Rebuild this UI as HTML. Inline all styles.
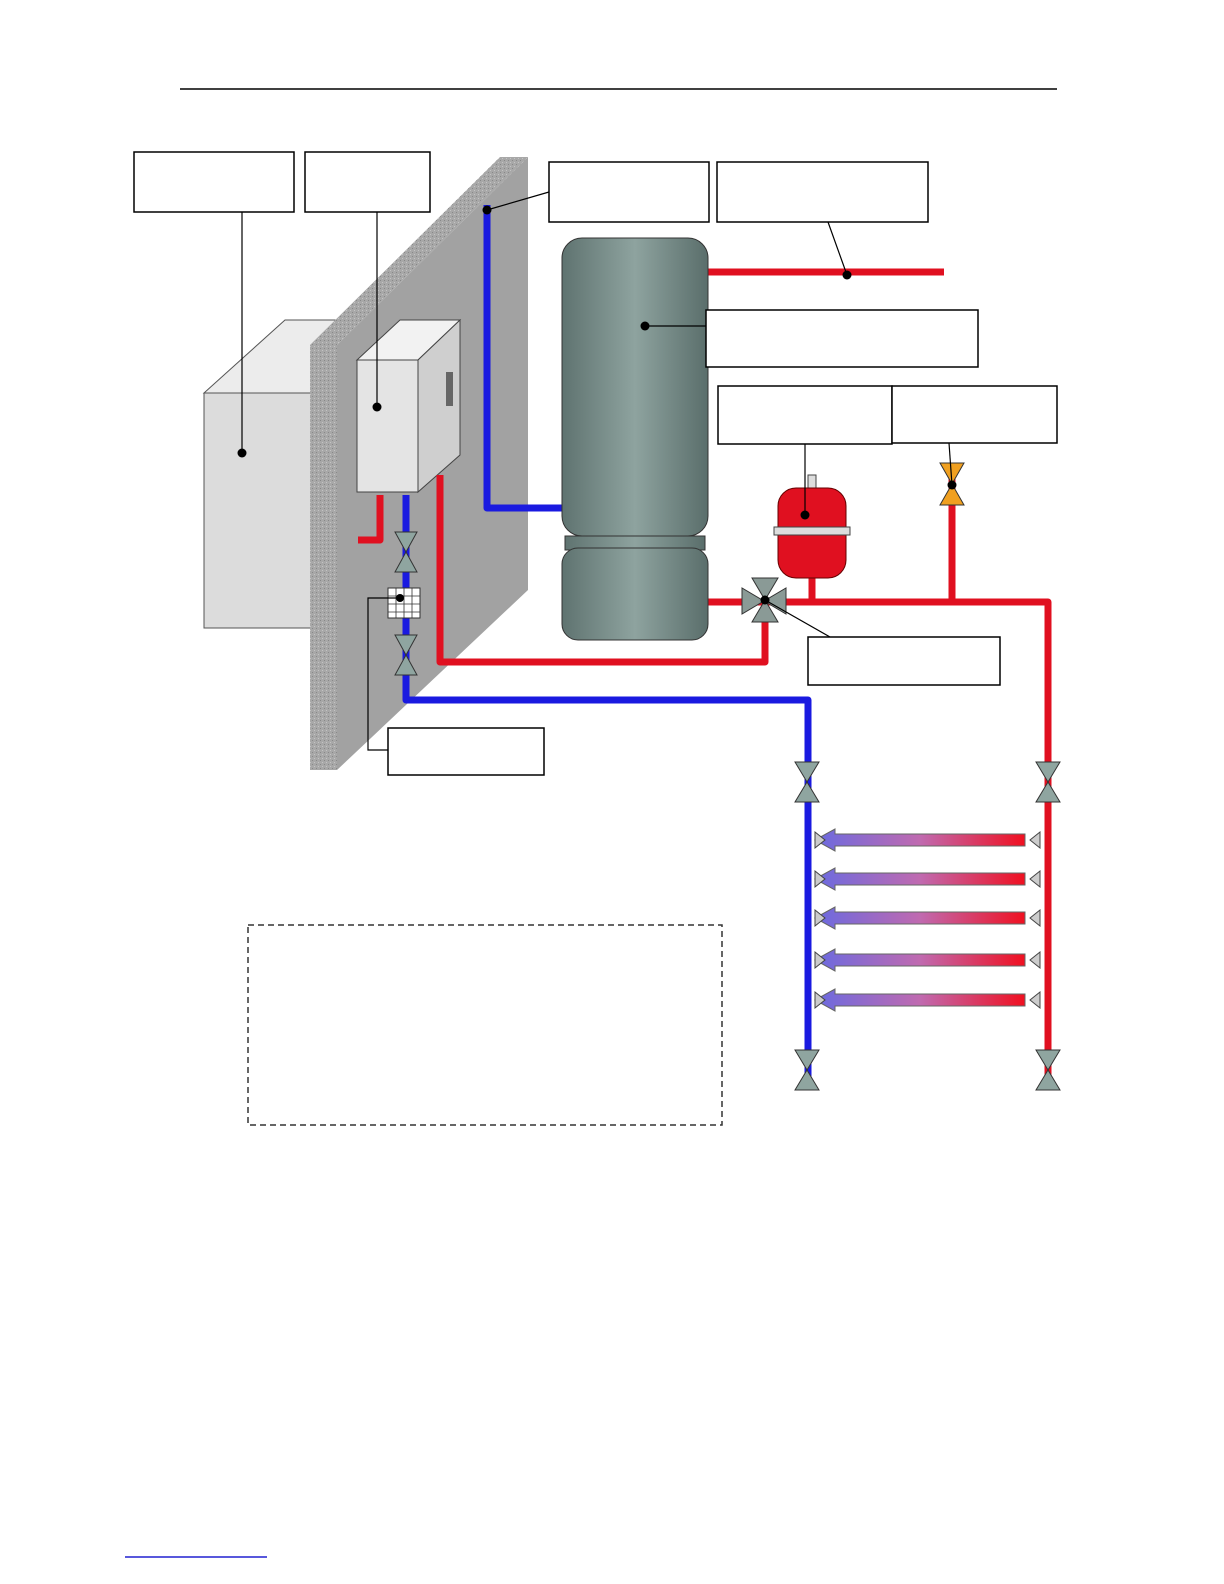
<!DOCTYPE html>
<html><head><meta charset="utf-8"><style>body{margin:0;background:#fff}svg{display:block}</style></head><body>
<svg width="1224" height="1584" viewBox="0 0 1224 1584" xmlns="http://www.w3.org/2000/svg">
<defs>
<linearGradient id="arr" x1="0" x2="1"><stop offset="0" stop-color="#6a6ae0"/><stop offset="0.5" stop-color="#c06ab0"/><stop offset="1" stop-color="#f01020"/></linearGradient>
<linearGradient id="tank" x1="0" x2="1"><stop offset="0" stop-color="#5f7370"/><stop offset="0.5" stop-color="#8ea39f"/><stop offset="1" stop-color="#5a6e6b"/></linearGradient>
<pattern id="tex" width="4" height="4" patternUnits="userSpaceOnUse"><rect width="4" height="4" fill="#a8a8a8"/><rect width="1" height="1" fill="#888"/><rect x="2" y="2" width="1" height="1" fill="#c4c4c4"/></pattern>
</defs>
<line x1="180" y1="89" x2="1057" y2="89" stroke="#000" stroke-width="1.5"/>
<!-- outdoor unit -->
<polygon points="204,393 285,320 335,320 335,393" fill="#ececec" stroke="#555"/>
<rect x="204" y="393" width="110" height="235" fill="#dcdcdc" stroke="#555"/>
<!-- wall -->
<polygon points="337,345 528,157 528,590 337,770" fill="#a2a2a2"/>
<polygon points="310,345 500,157 528,157 337,345" fill="url(#tex)"/>
<rect x="310" y="345" width="27" height="425" fill="url(#tex)"/>
<!-- indoor unit -->
<polygon points="357,360 400,320 460,320 418,360" fill="#f2f2f2" stroke="#444"/>
<polygon points="418,360 460,320 460,455 418,492" fill="#cfcfcf" stroke="#444"/>
<rect x="357" y="360" width="61" height="132" fill="#e4e4e4" stroke="#444"/>
<rect x="446" y="372" width="7" height="34" fill="#666"/>
<!-- pipes -->
<g fill="none" stroke-width="7" stroke-linejoin="round">
<path d="M487 205 V508 H562" stroke="#1a1ae0"/>
<path d="M708 272 H944" stroke="#e01020"/>
<path d="M440 475 V662 H765 V610" stroke="#e01020"/>
<path d="M708 602 H1048 V1090" stroke="#e01020"/>
<path d="M952 600 V470" stroke="#e01020"/>
<path d="M812 600 V570" stroke="#e01020"/>
<path d="M380 495 V540 H358" stroke="#e01020"/>
<path d="M406 495 V700 H808 V1090" stroke="#1a1ae0"/>
</g>
<!-- tank -->
<rect x="562" y="238" width="146" height="298" rx="20" fill="url(#tank)" stroke="#333"/>
<rect x="565" y="536" width="140" height="14" fill="url(#tank)" stroke="#333"/>
<rect x="562" y="548" width="146" height="92" rx="16" fill="url(#tank)" stroke="#333"/>
<!-- expansion vessel -->
<rect x="808" y="475" width="8" height="14" fill="#ddd" stroke="#444"/>
<rect x="778" y="488" width="68" height="90" rx="18" fill="#e01020" stroke="#600"/>
<rect x="774" y="527" width="76" height="8" fill="#ddd" stroke="#444"/>
<!-- orange valve -->
<polygon points="940,463 964,463 940,505 964,505" fill="#f0a020" stroke="#333"/>
<!-- 3 way valve -->
<polygon points="742,588 742,614 786,588 786,614" fill="#8a9a96" stroke="#333"/>
<polygon points="752,578 778,578 752,622 778,622" fill="#8a9a96" stroke="#333"/>
<!-- valves -->
<g fill="#8fa5a0" stroke="#333">
<polygon points="395,532 417,532 395,572 417,572"/>
<polygon points="395,635 417,635 395,675 417,675"/>
<polygon points="795,762 819,762 795,802 819,802"/>
<polygon points="1036,762 1060,762 1036,802 1060,802"/>
<polygon points="795,1050 819,1050 795,1090 819,1090"/>
<polygon points="1036,1050 1060,1050 1036,1090 1060,1090"/>
</g>
<!-- filter -->
<rect x="388" y="588" width="32" height="30" fill="#fff" stroke="#333"/>
<path d="M396 588V618M404 588V618M412 588V618M388 596H420M388 604H420M388 612H420" stroke="#333" stroke-width="0.8"/>
<!-- manifold -->
<g>
<g id="row"><polygon points="815,840 835,829 835,834 1025,834 1025,846 835,846 835,851" fill="url(#arr)" stroke="#666"/><polygon points="815,832 825,840 815,848" fill="#ccc" stroke="#444"/><polygon points="1040,832 1030,840 1040,848" fill="#ccc" stroke="#444"/></g>
<use href="#row" y="39"/><use href="#row" y="78"/><use href="#row" y="120"/><use href="#row" y="160"/>
</g>
<!-- leaders -->
<g stroke="#000" stroke-width="1.2" fill="none">
<path d="M242 212 V453"/><path d="M377 212 L377 407"/><path d="M549 192 L487 210"/>
<path d="M828 222 L847 275"/><path d="M706 326 L645 326"/><path d="M805 444 V515"/>
<path d="M949 443 L952 485"/><path d="M830 637 L765 600"/><path d="M388 750 H368 V598 H400"/>
</g>
<g fill="#000"><circle cx="242" cy="453" r="4.5"/><circle cx="377" cy="407" r="4.5"/><circle cx="487" cy="210" r="4.5"/><circle cx="847" cy="275" r="4.5"/><circle cx="645" cy="326" r="4.5"/><circle cx="805" cy="515" r="4.5"/><circle cx="952" cy="485" r="4.5"/><circle cx="765" cy="600" r="4.5"/><circle cx="400" cy="598" r="4"/></g>
<!-- label boxes -->
<g fill="#fff" stroke="#000" stroke-width="1.5">
<rect x="134" y="152" width="160" height="60"/><rect x="305" y="152" width="125" height="60"/>
<rect x="549" y="162" width="160" height="60"/><rect x="717" y="162" width="211" height="60"/>
<rect x="706" y="310" width="272" height="57"/><rect x="718" y="386" width="174" height="58"/>
<rect x="892" y="386" width="165" height="57"/><rect x="808" y="637" width="192" height="48"/>
<rect x="388" y="728" width="156" height="47"/>
</g>
<rect x="248" y="925" width="474" height="200" fill="none" stroke="#333" stroke-width="1.5" stroke-dasharray="6,4"/>
<line x1="125" y1="1557" x2="267" y2="1557" stroke="#2020d0" stroke-width="1.5"/>
</svg>
</body></html>
